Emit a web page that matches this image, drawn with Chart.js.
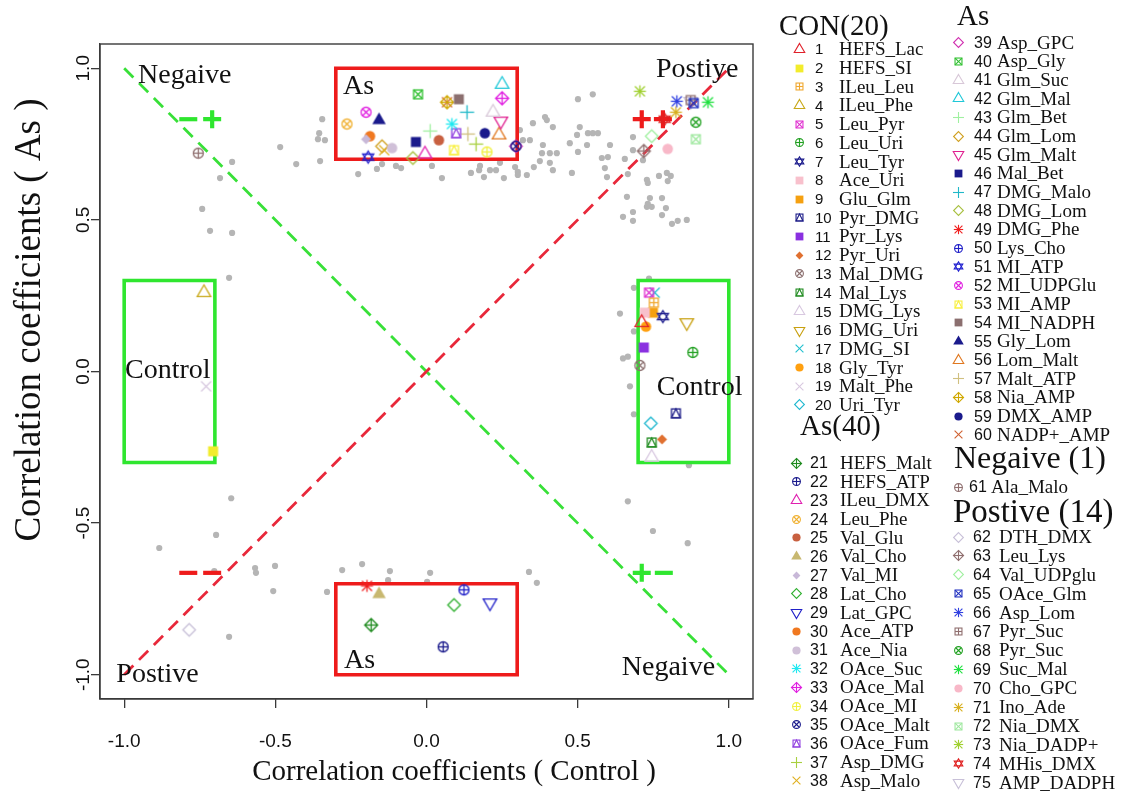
<!DOCTYPE html>
<html>
<head>
<meta charset="utf-8">
<script src="https://cdn.jsdelivr.net/npm/chart.js@4.4.1/dist/chart.umd.min.js"></script>
<style>
  html, body { margin: 0; padding: 0; background: #ffffff; }
  canvas { display: block; }
</style>
</head>
<body>
<canvas id="corr" width="1126" height="794"></canvas>
<script>
// ---------------- data ----------------
const tickValues = [-1, -0.5, 0, 0.5, 1];
const tickLabels = ['-1.0', '-0.5', '0.0', '0.5', '1.0'];

const groupTitles = ['CON(20)', 'As(40)', 'As', 'Negaive (1)', 'Postive (14)'];

const pairNames = [
  'HEFS_Lac', 'HEFS_SI', 'ILeu_Leu', 'ILeu_Phe', 'Leu_Pyr', 'Leu_Uri', 'Leu_Tyr', 'Ace_Uri', 'Glu_Glm', 'Pyr_DMG',
  'Pyr_Lys', 'Pyr_Uri', 'Mal_DMG', 'Mal_Lys', 'DMG_Lys', 'DMG_Uri', 'DMG_SI', 'Gly_Tyr', 'Malt_Phe', 'Uri_Tyr',
  'HEFS_Malt', 'HEFS_ATP', 'ILeu_DMX', 'Leu_Phe', 'Val_Glu', 'Val_Cho', 'Val_MI', 'Lat_Cho', 'Lat_GPC', 'Ace_ATP',
  'Ace_Nia', 'OAce_Suc', 'OAce_Mal', 'OAce_MI', 'OAce_Malt', 'OAce_Fum', 'Asp_DMG', 'Asp_Malo', 'Asp_GPC', 'Asp_Gly',
  'Glm_Suc', 'Glm_Mal', 'Glm_Bet', 'Glm_Lom', 'Glm_Malt', 'Mal_Bet', 'DMG_Malo', 'DMG_Lom', 'DMG_Phe', 'Lys_Cho',
  'MI_ATP', 'MI_UDPGlu', 'MI_AMP', 'MI_NADPH', 'Gly_Lom', 'Lom_Malt', 'Malt_ATP', 'Nia_AMP', 'DMX_AMP', 'NADP+_AMP',
  'Ala_Malo',
  'DTH_DMX', 'Leu_Lys', 'Val_UDPglu', 'OAce_Glm', 'Asp_Lom', 'Pyr_Suc', 'Pyr_Suc', 'Suc_Mal', 'Cho_GPC', 'Ino_Ade',
  'Nia_DMX', 'Nia_DADP+', 'MHis_DMX', 'AMP_DADPH'
];

// correlation coefficient of each pair in the control group (x) and the As group (y)
const pairControl = [
  0.712, -0.706, 0.752, -0.736, 0.736, 0.881, 0.782, 0.722, 0.749, 0.825,
  0.719, 0.779, 0.706, 0.745, 0.745, 0.861, 0.755, 0.726, -0.729, 0.742,
  -0.183, 0.055, -0.005, -0.263, 0.041, -0.157, -0.200, 0.091, 0.210, -0.187,
  -0.114, 0.084, 0.250, 0.200, 0.296, 0.098, 0.164, -0.140, 0.296, -0.028,
  0.220, 0.250, 0.012, -0.147, 0.246, -0.035, 0.134, -0.045, -0.197, 0.124,
  -0.193, -0.200, 0.091, 0.107, -0.157, 0.240, 0.137, 0.068, 0.193, 0.068,
  -0.755,
  -0.785, 0.719, 0.745, 0.884, 0.828, 0.874, 0.891, 0.931, 0.798, 0.825,
  0.891, 0.706, 0.788, 0.874
];
const pairAs = [
  0.161, -0.263, 0.227, 0.260, 0.260, 0.063, 0.181, 0.194, 0.194, -0.138,
  0.079, -0.224, 0.020, -0.234, -0.283, 0.161, 0.260, 0.148, -0.049, -0.171,
  -0.836, -0.908, 0.717, 0.816, 0.763, -0.734, 0.766, -0.770, -0.763, 0.776,
  0.737, 0.816, 0.901, 0.724, 0.743, 0.786, 0.750, 0.730, 0.743, 0.914,
  0.855, 0.947, 0.793, 0.743, 0.826, 0.757, 0.855, 0.704, -0.707, -0.720,
  0.707, 0.855, 0.730, 0.898, 0.829, 0.780, 0.783, 0.888, 0.786, 0.888,
  0.720,
  -0.852, 0.727, 0.776, 0.885, 0.891, 0.895, 0.822, 0.888, 0.734, 0.855,
  0.766, 0.924, 0.832, 0.891
];

// R plotting symbol code of each pair
const pairSymbols = [
  2, 15, 12, 2, 7, 10, 11, 15, 15, 14,
  15, 18, 13, 14, 2, 6, 4, 16, 4, 5,
  9, 10, 2, 13, 16, 17, 18, 5, 6, 16,
  16, 8, 9, 10, 13, 14, 3, 4, 5, 7,
  2, 2, 3, 5, 6, 15, 3, 5, 8, 10,
  11, 13, 14, 15, 17, 2, 3, 9, 16, 4,
  10,
  5, 9, 5, 7, 8, 12, 13, 8, 16, 8,
  7, 8, 11, 6
];
const pairColors = [
  '#e0202a', '#f2ec2c', '#f0a830', '#c8a818', '#e030d0', '#22a022', '#1a1a8c', '#f8c0cc', '#f5a010', '#1c1c88',
  '#8a30e0', '#e07030', '#8b6f6f', '#208b20', '#d8c8e0', '#c8a010', '#20c0d0', '#ffa010', '#d8c8e0', '#20b8d0',
  '#208b20', '#1a1a8c', '#e020b0', '#f0b030', '#c86040', '#c8b870', '#c8b8d8', '#30b030', '#2020c8', '#f07820',
  '#d0c0d8', '#20e8f0', '#e020e0', '#f0f040', '#1a1a8c', '#9040e0', '#a8d040', '#e0b020', '#d030b0', '#30c030',
  '#d8c8d8', '#20c8d8', '#a0f0a0', '#d0a020', '#e02090', '#1a1a8c', '#20b8c8', '#a8c040', '#f02020', '#2020c8',
  '#2020d0', '#e020e0', '#f8f040', '#8b6f6f', '#1a1a8c', '#e07820', '#d0c080', '#d0a800', '#1a1a8c', '#d06030',
  '#907070',
  '#c8c0d8', '#907070', '#a0f0a0', '#2030c0', '#3040e0', '#907070', '#20a020', '#20e040', '#f8b8c8', '#d8b020',
  '#a0e8a0', '#a0d030', '#e02020', '#c8c0d8'
];

// all other metabolite pairs (grey background points)
const otherControl = [
  -0.345, -0.355, -0.336, -0.359, -0.484, -0.431, -0.352, -0.643, -0.683, -0.742, -0.716, -0.643, -0.653,
  -0.226, -0.164, -0.147, -0.101, -0.084,
  0.018, 0.051, 0.147, 0.177, 0.174, 0.190, 0.210, 0.230, 0.243, 0.256, 0.293, 0.302, 0.302, 0.332, 0.355, 0.375,
  0.309, 0.319, 0.342, 0.352, 0.392, 0.398, 0.418, 0.385, 0.382, 0.408, 0.431, 0.408, 0.418, 0.474, 0.498, 0.507,
  0.534, 0.550, 0.567, 0.531, 0.501, 0.607, 0.580, 0.600, 0.590, 0.597, 0.656, 0.481, 0.501, 0.550, 0.683, 0.683,
  0.663, 0.650, 0.683,
  0.716, 0.666, 0.729, 0.732, 0.769, 0.795, 0.808, 0.798, 0.739, 0.779, 0.732, 0.745, 0.729, 0.792, 0.683, 0.779,
  0.812, 0.831, 0.861,
  0.736, 0.686, 0.640, 0.686, 0.650, 0.666, 0.673, 0.686, 0.868, 0.666, 0.749, 0.864,
  -0.279, -0.213, -0.121, -0.127, -0.329, 0.012, 0.002, 0.339, 0.365,
  -0.646, -0.696, -0.884, -0.702, -0.567, -0.564, -0.501, -0.507, -0.653
];
const otherAs = [
  0.832, 0.786, 0.763, 0.766, 0.740, 0.684, 0.694, 0.691, 0.638, 0.536, 0.464, 0.457, 0.309,
  0.651, 0.668, 0.684, 0.678, 0.671,
  0.678, 0.638, 0.655, 0.678, 0.664, 0.641, 0.664, 0.664, 0.688, 0.638, 0.674, 0.658, 0.648, 0.648, 0.674, 0.694,
  0.796, 0.763, 0.763, 0.819, 0.839, 0.829, 0.806, 0.747, 0.720, 0.720, 0.720, 0.688, 0.664, 0.753, 0.780, 0.806,
  0.786, 0.786, 0.786, 0.747, 0.724, 0.747, 0.704, 0.707, 0.671, 0.641, 0.701, 0.655, 0.898, 0.914, 0.773, 0.730,
  0.576, 0.510, 0.526,
  0.697, 0.651, 0.632, 0.622, 0.645, 0.655, 0.645, 0.628, 0.572, 0.572, 0.553, 0.543, 0.543, 0.539, 0.497, 0.516,
  0.487, 0.497, 0.500,
  0.306, 0.276, 0.191, 0.132, 0.043, 0.049, -0.049, -0.141, -0.309, -0.428, -0.526, -0.566,
  -0.655, -0.635, -0.658, -0.688, -0.727, -0.664, -0.694, -0.661, -0.697,
  -0.418, -0.539, -0.582, -0.658, -0.648, -0.664, -0.641, -0.724, -0.875
];

// threshold regions: [xmin, ymin, xmax, ymax]
const asRegions = [[-0.3, 0.7, 0.3, 1.0], [-0.3, -1.0, 0.3, -0.7]];
const controlRegions = [[-1.0, -0.3, -0.7, 0.3], [0.7, -0.3, 1.0, 0.3]];

// sign pairs (control sign, As sign) marked beside the diagonals
const signControl = [-0.788, -0.709, 0.712, 0.782, -0.788, -0.709, 0.712, 0.785];
const signAs = [0.832, 0.832, 0.832, 0.832, -0.664, -0.664, -0.664, -0.664];
const signKinds = ['-', '+', '+', '+', '-', '-', '+', '-'];

// region captions inside the plot: [text, control r, As r] (left end, baseline)
const plotCaptions = [
  ['Negaive', -0.954, 0.951],
  ['Postiye', 0.759, 0.970],
  ['As', -0.276, 0.914],
  ['Control', -0.997, -0.023],
  ['Control', 0.762, -0.076],
  ['As', -0.273, -0.977],
  ['Postive', -1.026, -1.023],
  ['Negaive', 0.646, -1.000]
];

// ---------------- styles ----------------
const RED = '#ee1b1b';
const GREEN = '#2fe62f';
const signColors = [GREEN, GREEN, RED, RED, RED, RED, GREEN, GREEN];
const SERIF = '"Liberation Serif", "Times New Roman", serif';
const SANS = '"Liberation Sans", Arial, sans-serif';

// R-style plotting symbols rendered to small canvases
function symbolCanvas(pch, color, R, lw) {
  const size = Math.ceil(R * 3.6 + lw * 2 + 2);
  const c = document.createElement('canvas');
  c.width = size; c.height = size;
  const g = c.getContext('2d');
  g.translate(size / 2, size / 2);
  g.strokeStyle = color; g.fillStyle = color; g.lineWidth = lw;
  g.lineJoin = 'miter'; g.lineCap = 'butt';
  const seg = (x1, y1, x2, y2) => { g.beginPath(); g.moveTo(x1, y1); g.lineTo(x2, y2); g.stroke(); };
  const poly = (pts, fill) => {
    g.beginPath();
    pts.forEach((p, i) => (i ? g.lineTo(p[0], p[1]) : g.moveTo(p[0], p[1])));
    g.closePath();
    if (fill) g.fill(); else g.stroke();
  };
  const circ = (r, fill) => { g.beginPath(); g.arc(0, 0, r, 0, Math.PI * 2); if (fill) g.fill(); else g.stroke(); };
  const sq = 0.886 * R;
  const tri = [[0, -1.555 * R], [1.347 * R, 0.778 * R], [-1.347 * R, 0.778 * R]];
  const triDown = tri.map(p => [p[0], -p[1]]);
  const dm = 1.253 * R;
  switch (pch) {
    case 0: g.strokeRect(-sq, -sq, 2 * sq, 2 * sq); break;
    case 1: circ(R); break;
    case 2: poly(tri); break;
    case 3: seg(-1.414 * R, 0, 1.414 * R, 0); seg(0, -1.414 * R, 0, 1.414 * R); break;
    case 4: seg(-R, -R, R, R); seg(-R, R, R, -R); break;
    case 5: poly([[0, -dm], [dm, 0], [0, dm], [-dm, 0]]); break;
    case 6: poly(triDown); break;
    case 7: g.strokeRect(-sq, -sq, 2 * sq, 2 * sq); seg(-sq, -sq, sq, sq); seg(-sq, sq, sq, -sq); break;
    case 8:
      seg(-R, -R, R, R); seg(-R, R, R, -R);
      seg(-1.2 * R, 0, 1.2 * R, 0); seg(0, -1.2 * R, 0, 1.2 * R); break;
    case 9: {
      const d = 1.3 * R;
      poly([[0, -d], [d, 0], [0, d], [-d, 0]]); seg(-d, 0, d, 0); seg(0, -d, 0, d); break;
    }
    case 10: circ(R); seg(-R, 0, R, 0); seg(0, -R, 0, R); break;
    case 11: {
      const h = 1.2 * R, b = 0.6 * R, w = 1.1 * R;
      poly([[0, -h], [w, b], [-w, b]]); poly([[0, h], [w, -b], [-w, -b]]); break;
    }
    case 12: g.strokeRect(-sq, -sq, 2 * sq, 2 * sq); seg(-sq, 0, sq, 0); seg(0, -sq, 0, sq); break;
    case 13: {
      const k = R * 0.7071;
      circ(R); seg(-k, -k, k, k); seg(-k, k, k, -k); break;
    }
    case 14: g.strokeRect(-sq, -sq, 2 * sq, 2 * sq); poly([[0, -sq], [sq, sq], [-sq, sq]]); break;
    case 15: g.fillRect(-R, -R, 2 * R, 2 * R); break;
    case 16: circ(R * 1.05, true); break;
    case 17: poly(tri, true); break;
    case 18: poly([[0, -R], [R, 0], [0, R], [-R, 0]], true); break;
    default: circ(R);
  }
  return c;
}

const plotSymbols = pairSymbols.map((p, i) => symbolCanvas(p, pairColors[i], 5, 1.3));
const legendSymbols = pairSymbols.map((p, i) => symbolCanvas(p, pairColors[i], 3.9, 1.1));

// ---------------- datasets ----------------
const datasets = [];

datasets.push({
  label: 'other pairs',
  data: otherControl.map((x, i) => ({ x, y: otherAs[i] })),
  pointRadius: 3.1,
  pointBackgroundColor: '#b5b5b5',
  pointBorderWidth: 0,
  showLine: false,
  order: 6
});

// diagonals: positive (red) and negative (green) correlation direction
datasets.push({
  type: 'line', label: 'positive diagonal',
  data: [{ x: -1, y: -1 }, { x: 1, y: 1 }],
  borderColor: '#e8283a', borderWidth: 2.8, borderDash: [13, 8],
  pointRadius: 0, fill: false, order: 5
});
datasets.push({
  type: 'line', label: 'negative diagonal',
  data: [{ x: -1, y: 1 }, { x: 1, y: -1 }],
  borderColor: '#38e038', borderWidth: 2.8, borderDash: [13, 8],
  pointRadius: 0, fill: false, order: 5
});

function regionPath(r) {
  return [
    { x: r[0], y: r[1] }, { x: r[0], y: r[3] }, { x: r[2], y: r[3] }, { x: r[2], y: r[1] }, { x: r[0], y: r[1] }
  ];
}
asRegions.forEach(r => datasets.push({
  type: 'line', label: 'As region', data: regionPath(r),
  borderColor: RED, borderWidth: 3.6, borderCapStyle: 'square', borderJoinStyle: 'miter',
  pointRadius: 0, fill: false, tension: 0, order: 4
}));
controlRegions.forEach(r => datasets.push({
  type: 'line', label: 'Control region', data: regionPath(r),
  borderColor: GREEN, borderWidth: 3.6, borderCapStyle: 'square', borderJoinStyle: 'miter',
  pointRadius: 0, fill: false, tension: 0, order: 4
}));

signKinds.forEach((k, i) => datasets.push({
  label: 'sign ' + k,
  data: [{ x: signControl[i], y: signAs[i] }],
  pointStyle: k === '+' ? 'cross' : 'line',
  pointRadius: 9,
  pointBorderWidth: 4.2,
  pointBorderColor: signColors[i],
  pointBackgroundColor: signColors[i],
  showLine: false,
  order: 3
}));

pairNames.forEach((name, i) => datasets.push({
  label: (i + 1) + ' ' + name,
  data: [{ x: pairControl[i], y: pairAs[i] }],
  pointStyle: plotSymbols[i],
  pointRadius: 5,
  showLine: false,
  order: 1
}));

// ---------------- layout of legend & labels ----------------
const AREA = { left: 100, top: 44, right: 753, bottom: 699 };
const legendBlocks = [
  { title: 0, hx: 779, hy: 35, hs: 29, first: 1, last: 20, y0: 49.3, dy: 18.72, mx: 799, nx: 815, tx: 839, ns: 15 },
  { title: 1, hx: 800, hy: 435, hs: 29, first: 21, last: 38, y0: 463, dy: 18.7, mx: 796, nx: 810, tx: 840, ns: 16 },
  { title: 2, hx: 957, hy: 25, hs: 29, first: 39, last: 60, y0: 42.7, dy: 18.67, mx: 958, nx: 974, tx: 997, ns: 16 },
  { title: 3, hx: 954, hy: 468, hs: 32, first: 61, last: 61, y0: 487, dy: 18.7, mx: 958, nx: 969, tx: 991, ns: 16 },
  { title: 4, hx: 953, hy: 522, hs: 33, first: 62, last: 75, y0: 537, dy: 18.9, mx: 958, nx: 973, tx: 999, ns: 16 }
];

const decorPlugin = {
  id: 'decor',
  afterDatasetsDraw(chart) {
    const { ctx, chartArea: a, scales: { x, y } } = chart;
    ctx.save();
    // plot frame
    ctx.strokeStyle = '#3a3a3a';
    ctx.lineWidth = 1.4;
    ctx.strokeRect(a.left, a.top, a.right - a.left, a.bottom - a.top);

    // region captions
    ctx.fillStyle = '#111';
    ctx.font = '28px ' + SERIF;
    ctx.textAlign = 'left';
    ctx.textBaseline = 'alphabetic';
    plotCaptions.forEach(([t, cx, cy]) => ctx.fillText(t, x.getPixelForValue(cx), y.getPixelForValue(cy)));

    // tick labels
    ctx.font = '19px ' + SANS;
    ctx.textAlign = 'center';
    ctx.textBaseline = 'middle';
    tickValues.forEach((v, i) => ctx.fillText(tickLabels[i], x.getPixelForValue(v), 742));
    tickValues.forEach((v, i) => {
      ctx.save();
      ctx.translate(84, y.getPixelForValue(v));
      ctx.rotate(-Math.PI / 2);
      ctx.fillText(tickLabels[i], 0, 0);
      ctx.restore();
    });

    // axis titles
    ctx.font = '29px ' + SERIF;
    ctx.fillText('Correlation coefficients ( Control )', 454, 772);
    ctx.save();
    ctx.translate(30, 320);
    ctx.rotate(-Math.PI / 2);
    ctx.font = '37px ' + SERIF;
    ctx.fillText('Correlation coefficients ( As )', 0, 0);
    ctx.restore();

    // legend
    legendBlocks.forEach(b => {
      ctx.textAlign = 'left';
      ctx.textBaseline = 'alphabetic';
      ctx.font = b.hs + 'px ' + SERIF;
      ctx.fillText(groupTitles[b.title], b.hx, b.hy);
      for (let n = b.first; n <= b.last; n++) {
        const yy = b.y0 + (n - b.first) * b.dy;
        const sym = legendSymbols[n - 1];
        ctx.drawImage(sym, Math.round(b.mx - sym.width / 2), Math.round(yy - sym.height / 2));
        ctx.textBaseline = 'middle';
        ctx.font = b.ns + 'px ' + SANS;
        ctx.fillText(String(n), b.nx, yy + 1);
        ctx.font = '19px ' + SERIF;
        ctx.fillText(pairNames[n - 1], b.tx, yy + 1);
      }
    });
    ctx.restore();
  }
};

const axisCommon = {
  type: 'linear',
  min: -1.08,
  max: 1.08,
  afterBuildTicks: s => { s.ticks = tickValues.map(v => ({ value: v })); },
  ticks: { display: false },
  grid: { display: true, drawOnChartArea: false, drawTicks: true, tickLength: 9, color: '#3a3a3a', lineWidth: 1.3 },
  border: { display: true, color: '#3a3a3a', width: 1.3 }
};

new Chart(document.getElementById('corr'), {
  type: 'scatter',
  data: { datasets },
  options: {
    responsive: false,
    animation: false,
    devicePixelRatio: 1,
    events: [],
    layout: { padding: { left: 0, top: AREA.top, right: 1126 - AREA.right, bottom: 0 } },
    plugins: { legend: { display: false }, tooltip: { enabled: false } },
    scales: {
      x: Object.assign({}, axisCommon, { position: 'bottom', afterFit: s => { s.height = 794 - AREA.bottom; } }),
      y: Object.assign({}, axisCommon, { position: 'left', afterFit: s => { s.width = AREA.left; } })
    }
  },
  plugins: [decorPlugin]
});
</script>
</body>
</html>
